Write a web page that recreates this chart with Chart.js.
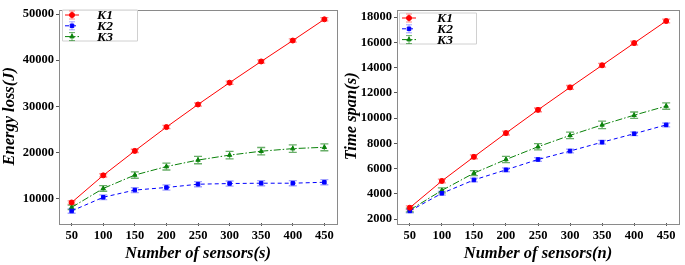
<!DOCTYPE html>
<html><head><meta charset="utf-8">
<script src="https://cdn.jsdelivr.net/npm/chart.js@4.4.0/dist/chart.umd.min.js"></script>
<style>
html,body{margin:0;padding:0;background:#fff;width:685px;height:265px;overflow:hidden}
.c{position:absolute;top:0;height:265px}
</style></head><body>
<div class="c" style="left:0;width:342px"><canvas id="c1"></canvas></div>
<div class="c" style="left:342px;width:343px"><canvas id="c2"></canvas></div>
<script>
const sensors = [50,100,150,200,250,300,350,400,450];
const seriesLabels = ['K1','K2','K3'];

const energyK1 = [9150,15030,20340,25500,30400,35130,39730,44270,48870];
const energyK2 = [7310,10280,11840,12400,13110,13260,13330,13330,13540];
const energyK3 = [8090,12190,15100,16940,18350,19420,20270,20830,21120];
const energyErrK1 = [350,350,350,350,350,350,350,350,350];
const energyErrK2 = [500,500,550,550,550,550,550,550,550];
const energyErrK3 = [500,600,700,750,800,800,800,800,750];
const energyTicks = [10000,20000,30000,40000,50000];

const timeK1 = [2900,5020,6930,8810,10650,12430,14180,15940,17690];
const timeK2 = [2650,4040,5100,5900,6720,7390,8090,8760,9460];
const timeK3 = [2720,4270,5640,6720,7730,8630,9460,10230,10950];
const timeErrK1 = [150,150,150,150,150,150,150,150,150];
const timeErrK2 = [150,150,150,150,150,150,150,150,150];
const timeErrK3 = [150,200,200,250,250,250,300,250,250];
const timeTicks = [2000,4000,6000,8000,10000,12000,14000,16000,18000];

const colors = ['#ff0000','#0000ff','#0a820a'];
const errColors = ['rgba(255,90,90,0.7)','rgba(90,90,255,0.55)','rgba(40,140,40,0.7)'];
const pointStyles = ['circle','rect','triangle'];
const dashes = [[],[4,3],[7,2,1.5,2]];
const serif = "'Liberation Serif','DejaVu Serif',serif";

const errorBars = {
  id:'errorBars',
  beforeDatasetsDraw(chart){
    const ctx = chart.ctx, xs = chart.scales.x, ys = chart.scales.y;
    chart.data.datasets.forEach((ds,i)=>{
      ctx.save();
      ctx.strokeStyle = errColors[i];
      ctx.lineWidth = 1.3;
      ds.data.forEach((p,j)=>{
        const e = ds.errors[j];
        const x = xs.getPixelForValue(p.x);
        const y1 = ys.getPixelForValue(p.y+e), y2 = ys.getPixelForValue(p.y-e);
        ctx.beginPath();
        ctx.moveTo(x,y1);ctx.lineTo(x,y2);
        ctx.moveTo(x-4,y1);ctx.lineTo(x+4,y1);
        ctx.moveTo(x-4,y2);ctx.lineTo(x+4,y2);
        ctx.stroke();
      });
      ctx.restore();
    });
  }
};

const frame = {
  id:'frame',
  afterDraw(chart){
    const a = chart.chartArea, ctx = chart.ctx;
    ctx.save();
    ctx.strokeStyle = '#8a8a8a';
    ctx.lineWidth = 1;
    ctx.strokeRect(Math.round(a.left)+0.5, Math.round(a.top)+0.5, Math.round(a.right-a.left), Math.round(a.bottom-a.top));
    const lg = chart.options.plugins.myLegend;
    const bx = a.left + lg.dx, by = a.top + lg.dy;
    ctx.fillStyle = 'rgba(255,255,255,0.85)';
    ctx.strokeStyle = '#d0d0d0';
    ctx.lineWidth = 1;
    ctx.beginPath();
    ctx.rect(bx+0.5,by+0.5,lg.w,lg.h);
    ctx.fill(); ctx.stroke();
    chart.data.datasets.forEach((ds,i)=>{
      const yy = by + 5.5 + i*10.8;
      const x0 = bx + 3, x1 = bx + 17, xm = (x0+x1)/2;
      ctx.strokeStyle = colors[i];
      ctx.lineWidth = 1;
      ctx.setLineDash(dashes[i]);
      ctx.beginPath(); ctx.moveTo(x0,yy); ctx.lineTo(x1,yy); ctx.stroke();
      ctx.setLineDash([]);
      ctx.strokeStyle = errColors[i];
      ctx.beginPath(); ctx.moveTo(xm,yy-4); ctx.lineTo(xm,yy+4);
      ctx.moveTo(xm-3,yy-4); ctx.lineTo(xm+3,yy-4);
      ctx.moveTo(xm-3,yy+4); ctx.lineTo(xm+3,yy+4); ctx.stroke();
      ctx.fillStyle = colors[i]; ctx.strokeStyle = colors[i];
      Chart.helpers.drawPoint(ctx,{pointStyle:pointStyles[i],radius:2.5,borderWidth:1},xm,yy);
      ctx.fillStyle = '#000';
      ctx.font = "italic bold 13.5px " + serif;
      ctx.textAlign = 'center'; ctx.textBaseline = 'middle';
      ctx.fillText(ds.label, bx + lg.tx, yy+1);
    });
    ctx.restore();
  }
};

function makeChart(id, series, errs, yTicks, ymin, ymax, ytitle, xtitle, yWidth, padRight, leg){
  const datasets = series.map((s,i)=>({
    label: seriesLabels[i],
    data: sensors.map((x,j)=>({x:x,y:s[j]})),
    errors: errs[i],
    borderColor: colors[i],
    backgroundColor: colors[i],
    borderWidth: 1,
    borderDash: dashes[i],
    pointStyle: pointStyles[i],
    pointRadius: 2.5,
    pointBorderWidth: 1,
    tension: 0
  }));
  return new Chart(document.getElementById(id), {
    type:'line',
    data:{datasets},
    plugins:[errorBars, frame],
    options:{
      responsive:true, maintainAspectRatio:false, animation:false,
      layout:{padding:{top:0,right:padRight,left:0,bottom:0}},
      plugins:{legend:{display:false}, tooltip:{enabled:false}, myLegend:leg},
      scales:{
        x:{type:'linear', min:30, max:470,
          afterBuildTicks(s){ s.ticks = sensors.map(v=>({value:v})); },
          afterFit(s){ s.height = 42; },
          grid:{display:true, drawOnChartArea:false, drawTicks:true, tickLength:3, color:'#555'},
          border:{display:false},
          ticks:{color:'#000', font:{family:serif, weight:'bold', size:12.5}, padding:2, maxRotation:0},
          title:{display:true, text:xtitle, color:'#000', font:{family:serif, weight:'bold', style:'italic', size:16.5}, padding:{top:0,bottom:1}}
        },
        y:{type:'linear', min:ymin, max:ymax,
          afterBuildTicks(s){ s.ticks = yTicks.map(v=>({value:v})); },
          afterFit(s){ s.width = yWidth; },
          grid:{display:true, drawOnChartArea:false, drawTicks:true, tickLength:3, color:'#555'},
          border:{display:false},
          ticks:{color:'#000', font:{family:serif, weight:'bold', size:12.5}, padding:2, callback:v=>String(v)},
          title:{display:true, text:ytitle, color:'#000', font:{family:serif, weight:'bold', style:'italic', size:16.5}, padding:{top:0,bottom:2}}
        }
      }
    }
  });
}

makeChart('c1',[energyK1,energyK2,energyK3],[energyErrK1,energyErrK2,energyErrK3],energyTicks,4700,51000,'Energy loss(J)','Number of sensors(s)',59,5,{dx:3,dy:0,w:75,h:31,tx:43});
makeChart('c2',[timeK1,timeK2,timeK3],[timeErrK1,timeErrK2,timeErrK3],timeTicks,1690,18600,'Time span(s)','Number of sensors(n)',55,6,{dx:2,dy:3,w:77,h:31,tx:46});
</script>
</body></html>
